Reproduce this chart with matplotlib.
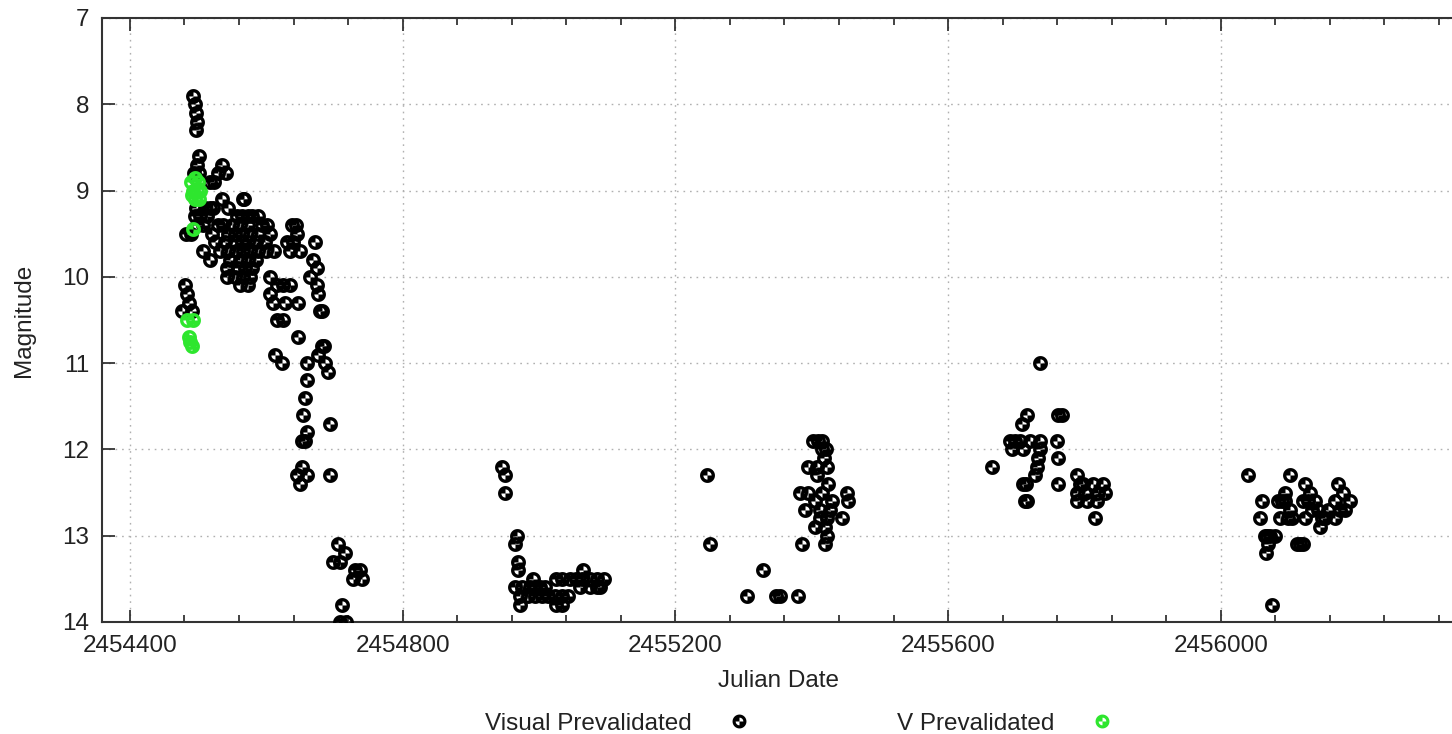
import numpy as np
import matplotlib
matplotlib.use("Agg")
import matplotlib.pyplot as plt
from matplotlib.path import Path
from matplotlib.lines import Line2D

plt.rcParams['font.family'] = ['Liberation Sans', 'DejaVu Sans']

# ---------------- data ----------------
JD_EPOCH = 2454400  # Julian Date values below are days after this epoch

vis_days = [
    81, 84, 87, 76, 91, 82, 89,
    92, 95, 97, 98, 97,
    101, 98, 94, 101,
    135, 141, 129, 123, 117, 166, 167, 135, 144, 97, 95, 99,
    110, 117, 122,
    103, 113, 157, 164, 173, 179, 188,
    107, 129, 136, 150, 161, 173, 194, 201, 238, 243,
    120, 144, 154, 164, 176, 188, 205, 245,
    125, 139, 154, 164, 173, 185, 198, 230, 239, 271,
    107, 132, 144, 155, 166, 176, 188, 199, 211, 235, 249,
    117, 147, 161, 173, 185, 268,
    142, 158, 169, 179, 274,
    142, 154, 166, 176, 205, 264,
    161, 173, 216, 224, 235, 274,
    205, 276,
    210, 227, 246,
    279, 282,
    216, 224,
    246,
    282, 285,
    213, 276,
    223, 260, 286,
    290, 260, 257, 254, 293, 260,
    252, 257,
    252,
    245, 260, 293,
    249,
    305, 315, 298, 308, 330, 337, 327, 340, 311, 308, 317,
    # second season
    546, 550, 550, 568, 565, 569, 569, 591, 572,
    565, 575, 587, 594, 601, 609, 660, 675, 685, 689,
    572, 584, 594, 604, 613, 623, 634, 642,
    625, 634,
    625, 634, 645, 654, 663, 675, 685, 695,
    664,
    # third season
    846, 851, 928, 905, 947, 953, 980, 986,
    1002, 1009, 1015,
    1015, 1021,
    1018,
    994, 1008, 1022,
    1008,
    1024,
    983, 994, 1015, 1052,
    1005, 1030, 1053,
    990, 1012, 1027,
    1012, 1022, 1044,
    1005, 1019,
    1022,
    1019,
    # fourth season
    1335,
    1316, 1361, 1367,
    1308,
    1291, 1298, 1305, 1320, 1335, 1360,
    1294, 1310, 1335,
    1332, 1361,
    1264, 1330,
    1327, 1389,
    1310, 1314, 1361, 1393, 1398, 1412, 1427,
    1389, 1401, 1420, 1430,
    1313, 1316, 1389, 1404, 1418,
    1415,
    # fifth season
    1640,
    1660, 1657, 1665, 1668, 1672, 1679, 1669, 1666, 1675,
    1684, 1690, 1694, 1687, 1698, 1701, 1694, 1701, 1704,
    1712, 1716, 1720,
    1720, 1723, 1728, 1723, 1731, 1734, 1738, 1742, 1748, 1745, 1753, 1757,
    1772, 1767, 1775, 1779, 1782, 1789, 1767,
]

vis_mag = [
    10.1, 10.2, 10.3, 10.4, 10.4, 9.5, 9.5,
    7.9, 8.0, 8.1, 8.2, 8.3,
    8.6, 8.7, 8.8, 8.8,
    8.7, 8.8, 8.8, 8.9, 8.9, 9.1, 9.1, 9.1, 9.2, 9.2, 9.3, 9.4,
    9.2, 9.2, 9.2,
    9.3, 9.3, 9.3, 9.3, 9.3, 9.3, 9.3,
    9.4, 9.4, 9.4, 9.4, 9.4, 9.4, 9.4, 9.4, 9.4, 9.4,
    9.5, 9.5, 9.5, 9.5, 9.5, 9.5, 9.5, 9.5,
    9.6, 9.6, 9.6, 9.6, 9.6, 9.6, 9.6, 9.6, 9.6, 9.6,
    9.7, 9.7, 9.7, 9.7, 9.7, 9.7, 9.7, 9.7, 9.7, 9.7, 9.7,
    9.8, 9.8, 9.8, 9.8, 9.8, 9.8,
    9.9, 9.9, 9.9, 9.9, 9.9,
    10.0, 10.0, 10.0, 10.0, 10.0, 10.0,
    10.1, 10.1, 10.1, 10.1, 10.1, 10.1,
    10.2, 10.2,
    10.3, 10.3, 10.3,
    10.4, 10.4,
    10.5, 10.5,
    10.7,
    10.8, 10.8,
    10.9, 10.9,
    11.0, 11.0, 11.0,
    11.1, 11.2, 11.4, 11.6, 11.7, 11.8,
    11.9, 11.9,
    12.2,
    12.3, 12.3, 12.3,
    12.4,
    13.1, 13.2, 13.3, 13.3, 13.4, 13.4, 13.5, 13.5, 13.8, 14.0, 14.0,
    # second season
    12.2, 12.3, 12.5, 13.0, 13.1, 13.3, 13.4, 13.5, 13.8,
    13.6, 13.6, 13.6, 13.6, 13.6, 13.6, 13.6, 13.6, 13.6, 13.6,
    13.7, 13.7, 13.7, 13.7, 13.7, 13.7, 13.7, 13.7,
    13.8, 13.8,
    13.5, 13.5, 13.5, 13.5, 13.5, 13.5, 13.5, 13.5,
    13.4,
    # third season
    12.3, 13.1, 13.4, 13.7, 13.7, 13.7, 13.7, 13.1,
    11.9, 11.9, 11.9,
    12.0, 12.0,
    12.1,
    12.2, 12.2, 12.2,
    12.3,
    12.4,
    12.5, 12.5, 12.5, 12.5,
    12.6, 12.6, 12.6,
    12.7, 12.7, 12.7,
    12.8, 12.8, 12.8,
    12.9, 12.9,
    13.0,
    13.1,
    # fourth season
    11.0,
    11.6, 11.6, 11.6,
    11.7,
    11.9, 11.9, 11.9, 11.9, 11.9, 11.9,
    12.0, 12.0, 12.0,
    12.1, 12.1,
    12.2, 12.2,
    12.3, 12.3,
    12.4, 12.4, 12.4, 12.4, 12.4, 12.4, 12.4,
    12.5, 12.5, 12.5, 12.5,
    12.6, 12.6, 12.6, 12.6, 12.6,
    12.8,
    # fifth season
    12.3,
    12.6, 12.8, 13.0, 13.0, 13.0, 13.0, 13.1, 13.2, 13.8,
    12.6, 12.6, 12.6, 12.8, 12.8, 12.3, 12.5, 12.7, 12.8,
    13.1, 13.1, 13.1,
    12.6, 12.4, 12.6, 12.8, 12.5, 12.7, 12.6, 12.7, 12.8, 12.9, 12.8, 12.7,
    12.4, 12.6, 12.7, 12.5, 12.7, 12.6, 12.8,
]

v_days = [84, 92, 86, 88, 91, 92, 90, 95, 100, 93, 98, 103, 96, 101, 91]
v_mag = [10.5, 10.5, 10.7, 10.75, 10.8, 9.45, 8.9, 8.85, 8.9, 9.0, 9.0, 9.0, 9.1, 9.1, 9.05]

series_labels = ["Visual Prevalidated", "V Prevalidated"]
x_ticks = [2454400, 2454800, 2455200, 2455600, 2456000]
y_ticks = [7, 8, 9, 10, 11, 12, 13, 14]

# ---------------- marker shape (ring with two inner quadrants cut out) ----------------
def make_marker():
    th = np.linspace(0, 2 * np.pi, 65)
    outer = np.column_stack([np.cos(th), np.sin(th)])
    verts = list(outer)
    codes = [Path.MOVETO] + [Path.LINETO] * (len(outer) - 2) + [Path.CLOSEPOLY]
    r = 0.55
    for a0, a1 in [(np.pi / 2, 0.0), (3 * np.pi / 2, np.pi)]:  # clockwise holes
        arc = np.linspace(a0, a1, 12)
        pts = [[0.0, 0.0]] + [[r * np.cos(a), r * np.sin(a)] for a in arc] + [[0.0, 0.0]]
        verts += pts
        codes += [Path.MOVETO] + [Path.LINETO] * (len(pts) - 2) + [Path.CLOSEPOLY]
    return Path(np.array(verts), codes)

mk = make_marker()

# ---------------- figure ----------------
fig = plt.figure(figsize=(14.52, 7.34), dpi=100)
ax = fig.add_axes([102 / 1452, 1 - 622 / 734, 1352 / 1452, 604 / 734])

vis_x = [JD_EPOCH + d for d in vis_days]
v_x = [JD_EPOCH + d for d in v_days]

ms = 115
green = '#2ee62e'
ax.scatter(vis_x, vis_mag, s=ms, marker=mk, c='black', linewidths=0, zorder=3)
ax.scatter(v_x, v_mag, s=ms, marker=mk, c=green, linewidths=0, zorder=4)

ax.set_xlim(2454359, 2456342)
ax.set_ylim(14, 7)
ax.set_xticks(x_ticks)
ax.set_xticklabels([str(t) for t in x_ticks])
ax.set_xticks(np.arange(2454400, 2456342, 80), minor=True)
ax.set_yticks(y_ticks)
ax.set_yticklabels([str(t) for t in y_ticks])

fs = 17.5
ax.tick_params(axis='both', which='both', direction='in', top=True, right=False,
               labelsize=fs, colors='#222222')
ax.tick_params(axis='both', which='major', length=9, width=1.2)
ax.tick_params(axis='both', which='minor', length=5, width=1.2)
ax.tick_params(axis='x', pad=9)
ax.tick_params(axis='y', pad=9)

for s in ['left', 'bottom', 'top']:
    ax.spines[s].set_linewidth(1.5)
    ax.spines[s].set_color('#333333')
ax.spines['right'].set_visible(False)

ax.grid(True, which='major', linestyle=(0, (1.2, 3.5)), color='#b0b0b0', linewidth=1.0)
ax.set_axisbelow(True)

ax.set_xlabel("Julian Date", fontsize=fs, labelpad=10, color='#222222')
ax.set_ylabel("Magnitude", fontsize=fs, labelpad=20, color='#222222')

handles = [
    Line2D([], [], linestyle='none', marker=mk, markersize=10, color='black', markeredgewidth=0),
    Line2D([], [], linestyle='none', marker=mk, markersize=10, color=green, markeredgewidth=0),
]
fig.legend(handles, series_labels, loc='center', bbox_to_anchor=(0.5505, 0.014),
           ncol=2, markerfirst=False, frameon=False, fontsize=fs,
           handlelength=1.0, handletextpad=1.45, columnspacing=6.0,
           labelcolor='#222222')

fig.savefig("out.png", dpi=100)
